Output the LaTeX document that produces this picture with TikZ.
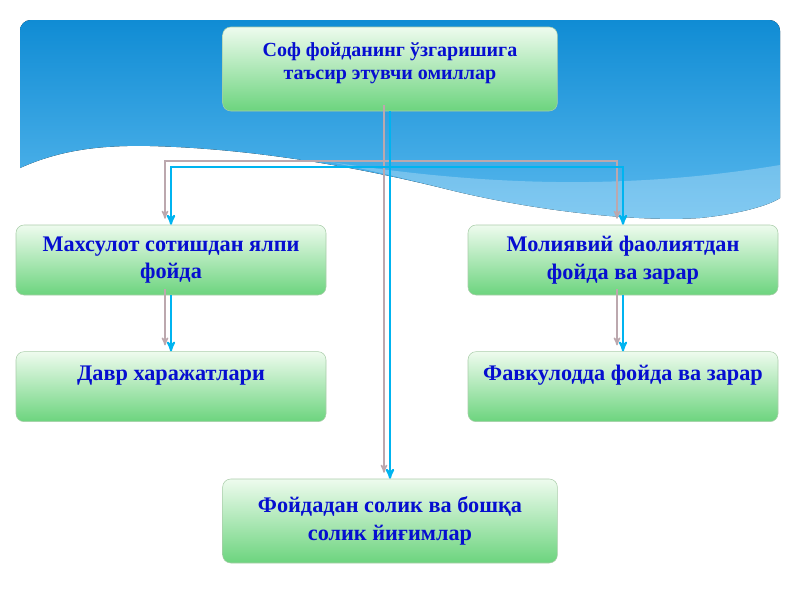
\documentclass[tikz,border=0pt]{standalone}
\usepackage{fontspec}
\setmainfont{Liberation Serif}
\usetikzlibrary{arrows}
\definecolor{txtblue}{RGB}{6,14,208}
\definecolor{lineblue}{RGB}{0,180,240}
\definecolor{shadowgrey}{RGB}{188,168,174}
\definecolor{skytop}{RGB}{16,140,212}
\definecolor{skybottom}{RGB}{90,185,238}
\definecolor{boxtop}{RGB}{238,251,238}
\definecolor{boxbottom}{RGB}{108,212,126}
\definecolor{boxline}{RGB}{170,205,170}

\begin{document}
\begin{tikzpicture}[x=0.75pt,y=-0.75pt,->,>=stealth',node distance=339pt,
  main node/.style={rectangle,rounded corners=6pt,draw=boxline,line width=0.4pt,
    top color=boxtop,bottom color=boxbottom,text=txtblue,align=center,
    font=\fontsize{16.7}{20.5}\selectfont\bfseries,minimum width=232.5pt,minimum height=52.5pt},
  wide node/.style={main node,minimum width=251pt,minimum height=63pt}]

  \useasboundingbox (0,0) rectangle (800,600);

  % sky with the white wave
  \fill[top color=skytop,bottom color=skybottom] (20,168)
    .. controls (60,150) and (100,145) .. (150,146)
    .. controls (230,148) and (330,160) .. (450,190)
    .. controls (540,212) and (640,222) .. (700,218)
    .. controls (740,214) and (770,205) .. (780,198)
    [rounded corners=8pt] -- (780,20) -- (20,20) [sharp corners] -- cycle;
  \fill[white,opacity=0.25] (330,162)
    .. controls (450,180) and (600,195) .. (780,165) -- (780,198)
    .. controls (770,205) and (740,214) .. (700,218)
    .. controls (640,222) and (540,212) .. (450,190)
    .. controls (400,177) and (360,168) .. (330,162) -- cycle;

  \node[wide node,font=\fontsize{15}{17}\selectfont\bfseries] (1) at (390,69) {Соф фойданинг ўзгаришига\\таъсир этувчи омиллар\\[-5pt]\mbox{}};
  \node[main node] (2) at (171,260) {Махсулот сотишдан ялпи\\фойда};
  \node[main node] (3) [right of=2] {Молиявий фаолиятдан\\фойда ва зарар};
  \node[main node] (4) [below of=2,node distance=95pt] {Давр харажатлари\\ \mbox{}};
  \node[main node] (5) [below of=3,node distance=95pt] {Фавкулодда фойда ва зарар\\ \mbox{}};
  \node[wide node] (6) [below of=1] {Фойдадан солик ва бошқа\\солик йиғимлар};
  \coordinate (j) at (390,167);

  % grey shadow of the connectors
  \begin{scope}[transform canvas={xshift=-4.5pt,yshift=4.5pt},shadowgrey,line width=1.1pt]
    \draw (1) -- (6);
    \draw (j) -| (2.north);
    \draw (j) -| (3.north);
    \draw (2) -- (4);
    \draw (3) -- (5);
  \end{scope}

  \begin{scope}[lineblue,line width=1.5pt]
    \draw (1) -- (6);
    \draw (j) -| (2.north);
    \draw (j) -| (3.north);
    \draw (2) -- (4);
    \draw (3) -- (5);
  \end{scope}

\end{tikzpicture}
\end{document}
